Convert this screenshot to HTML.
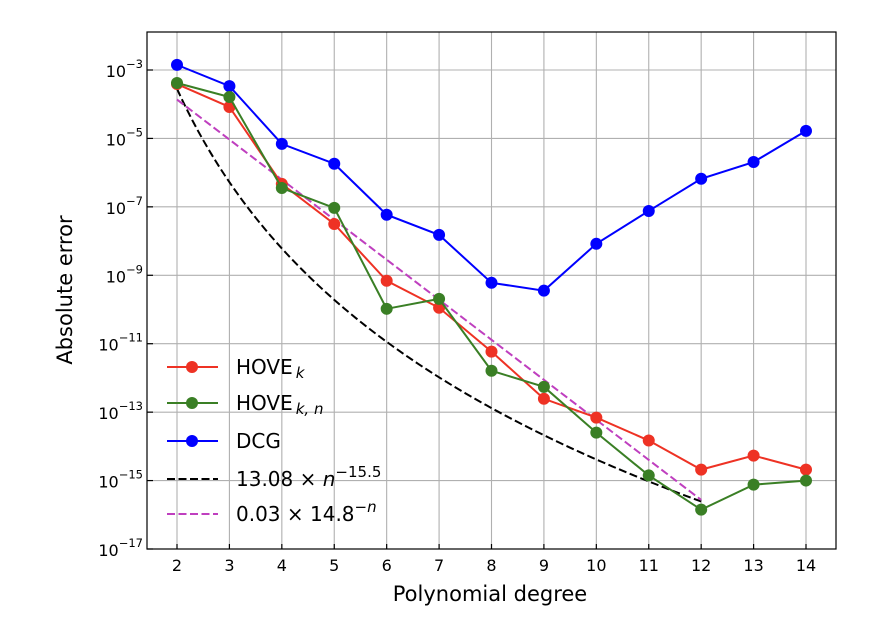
<!DOCTYPE html>
<html><head><meta charset="utf-8"><style>
body{margin:0;background:#fff}
svg{display:block;font-family:"DejaVu Sans","Liberation Sans",sans-serif}
</style></head><body>
<svg id="chart" width="888" height="638"></svg>
<script>
const degrees=[2,3,4,5,6,7,8,9,10,11,12,13,14];
const dcgLog=[-2.85,-3.47,-5.16,-5.74,-7.23,-7.82,-9.22,-9.45,-8.08,-7.12,-6.18,-5.69,-4.78];
const hoveKLog=[-3.41,-4.08,-6.33,-7.5,-9.16,-9.95,-11.23,-12.61,-13.16,-13.83,-14.68,-14.27,-14.68];
const hoveKNLog=[-3.38,-3.79,-6.45,-7.03,-9.98,-9.69,-11.79,-12.26,-13.6,-14.85,-15.85,-15.12,-15.0];
const yTickExps=[-3,-5,-7,-9,-11,-13,-15,-17];
const NS="http://www.w3.org/2000/svg";
const svg=document.getElementById('chart');
const L=147,R=836,T=32,B=549;
const X=n=>177+(n-2)*(806-177)/12;
const Y=lg=>70+(-3-lg)*34.214;
function el(tag,attrs,parent){const e=document.createElementNS(NS,tag);for(const k in attrs)e.setAttribute(k,attrs[k]);(parent||svg).appendChild(e);return e;}
const grid=el('g',{});


degrees.forEach(n=>el('line',{x1:X(n),x2:X(n),y1:T,y2:B,stroke:'#b0b0b0','stroke-width':1.1},grid));
yTickExps.forEach(e=>el('line',{x1:L,x2:R,y1:Y(e),y2:Y(e),stroke:'#b0b0b0','stroke-width':1.1},grid));
const xt=el('g',{});


degrees.forEach(n=>{el('line',{x1:X(n),x2:X(n),y1:B-5,y2:B,stroke:'#000','stroke-width':1.2},xt);const t=el('text',{x:X(n),y:B+22,'text-anchor':'middle','font-size':16},xt);t.textContent=n;});
const yt=el('g',{});


yTickExps.forEach(e=>{el('line',{x1:L,x2:L+6,y1:Y(e),y2:Y(e),stroke:'#000','stroke-width':1.2},yt);const t=el('text',{x:L-4,y:Y(e)+7,'text-anchor':'end','font-size':16},yt);t.appendChild(document.createTextNode('10'));const s=el('tspan',{dy:-9,'font-size':11.5},t);s.textContent='\u2212'+(-e);});
function fitLine(fn,color,name){const pts=[];for(let n=2;n<=12.001;n+=0.1)pts.push(X(n)+','+Y(fn(n)));const p=el('polyline',{points:pts.join(' '),fill:'none',stroke:color,'stroke-width':2,'stroke-dasharray':'8,3.5'});}
fitLine(n=>Math.log10(13.08*Math.pow(n,-15.5)),'#000','power-fit-line');
fitLine(n=>Math.log10(0.03*Math.pow(14.8,-n)),'#bf3fbf','exp-fit-line');
function series(ys,color,name){const g=el('g',{});el('polyline',{points:degrees.map((n,i)=>X(n)+','+Y(ys[i])).join(' '),fill:'none',stroke:color,'stroke-width':2},g);degrees.forEach((n,i)=>{const c=el('circle',{cx:X(n),cy:Y(ys[i]),r:6,fill:color},g);});}
series(dcgLog,'#0000ff','dcg-series');
series(hoveKLog,'#ee3224','hove-k-series');
series(hoveKNLog,'#3a7f25','hove-kn-series');
const fr=el('rect',{x:L,y:T,width:R-L,height:B-T,fill:'none',stroke:'#000','stroke-width':1.2});


</script>
<div style="position:absolute;left:0;top:0">
<svg width="888" height="638" style="font-family:'DejaVu Sans','Liberation Sans',sans-serif">
<text x="490" y="601" text-anchor="middle" font-size="21">Polynomial degree</text>
<text transform="translate(72,290) rotate(-90)" text-anchor="middle" font-size="21">Absolute error</text>
<g>
<g><line x1="167" x2="218" y1="367" y2="367" stroke="#ee3224" stroke-width="2"/><circle cx="192" cy="367" r="6" fill="#ee3224"/><text x="236" y="374" font-size="20">HOVE<tspan dx="3" dy="4" font-size="15" font-style="italic">k</tspan></text></g>
<g><line x1="167" x2="218" y1="403" y2="403" stroke="#3a7f25" stroke-width="2"/><circle cx="192" cy="403" r="6" fill="#3a7f25"/><text x="236" y="410" font-size="20">HOVE<tspan dx="3" dy="4" font-size="15" font-style="italic">k, n</tspan></text></g>
<g><line x1="167" x2="218" y1="441" y2="441" stroke="#0000ff" stroke-width="2"/><circle cx="192" cy="441" r="6" fill="#0000ff"/><text x="236" y="448" font-size="20">DCG</text></g>
<g><line x1="167" x2="218" y1="479" y2="479" stroke="#000" stroke-width="2" stroke-dasharray="8,3.5"/><text x="236" y="486" font-size="20">13.08 × <tspan font-style="italic">n</tspan><tspan dy="-9" font-size="15">−15.5</tspan></text></g>
<g><line x1="167" x2="218" y1="514" y2="514" stroke="#bf3fbf" stroke-width="2" stroke-dasharray="8,3.5"/><text x="236" y="521" font-size="20">0.03 × 14.8<tspan dy="-9" font-size="15">−<tspan font-style="italic">n</tspan></tspan></text></g>
</g>
</svg></div>
</body></html>
